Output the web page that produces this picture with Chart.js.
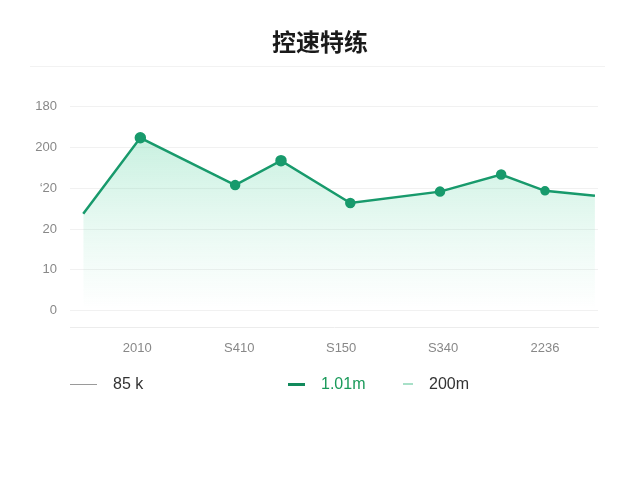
<!DOCTYPE html>
<html>
<head>
<meta charset="utf-8">
<script src="https://cdn.jsdelivr.net/npm/chart.js@4/dist/chart.umd.min.js"></script>
<style>
  html, body { margin: 0; padding: 0; background: #fff; }
  #wrap { position: relative; width: 640px; height: 480px; font-family: "Liberation Sans", Arial, sans-serif; }
  #myChart { position: absolute; left: 0; top: 0; }
  #rule { position: absolute; left: 30px; top: 66px; width: 575px; height: 1px; background: #f2f2f2; }
  #legend { position: absolute; left: 0; top: 374px; width: 640px; height: 20px; }
  .item { position: absolute; top: 0; height: 20px; display: flex; align-items: center; font-size: 16px; color: #333; }
  .item .mark { display: inline-block; margin-right: 16px; }
</style>
</head>
<body>
<div id="wrap">
  <canvas id="myChart" width="640" height="480"></canvas>
  <div id="rule"></div>
  <div id="legend"></div>
</div>
<script>
//
// data
//
const titleText = '控速特练';
const xTickLabels = ['2010', 'S410', 'S150', 'S340', '2236'];
const yTickValues = [0, 50, 100, 150, 200, 250];
const yTickLabels = ['0', '10', '20', '‘20', '200', '180'];
// x given in category units (0 = "2010" ... 4 = "2236")
const seriesX = [-0.53, 0.03, 0.96, 1.41, 2.09, 2.97, 3.57, 4.0, 4.49];
const seriesY = [119, 212, 154, 184, 132, 146, 167, 147, 141];
const legendLabels = ['85 k', '1.01m', '200m'];

//
// legend (html, positions follow the picture)
//
const legendStyle = [
    { left: 70, w: 27, h: 1, color: '#9a9a9a', text: '#333' },
    { left: 288, w: 17, h: 3, color: '#128a5c', text: '#1a9a5a' },
    { left: 403, w: 10, h: 2, color: '#a8e0c8', text: '#333' },
];
const legendEl = document.getElementById('legend');
legendLabels.forEach((lab, i) => {
    const s = legendStyle[i];
    const item = document.createElement('div');
    item.className = 'item';
    item.style.left = s.left + 'px';
    item.style.color = s.text;
    const mark = document.createElement('span');
    mark.className = 'mark';
    mark.style.width = s.w + 'px';
    mark.style.height = s.h + 'px';
    mark.style.background = s.color;
    item.appendChild(mark);
    item.appendChild(document.createTextNode(lab));
    legendEl.appendChild(item);
});

//
// CHART
//
const points = seriesX.map((x, i) => ({ x: x, y: seriesY[i] }));
const ctx = document.getElementById('myChart').getContext('2d');

var myChart = new Chart(ctx, {
    type: 'line',
    data: {
        datasets: [{
            label: legendLabels[1],
            data: points,
            borderColor: '#189a6c',
            borderWidth: 2.5,
            pointBackgroundColor: '#189a6c',
            pointBorderColor: '#189a6c',
            pointRadius: [0, 4.5, 4, 4.5, 4, 4, 4, 3.5, 0],
            lineTension: 0,
            fill: 'start',
            backgroundColor: function(context) {
                const area = context.chart.chartArea;
                if (!area) return 'rgba(60,200,140,0.2)';
                const g = context.chart.ctx.createLinearGradient(0, area.top, 0, area.bottom);
                g.addColorStop(0, 'rgba(70,205,150,0.36)');
                g.addColorStop(0.45, 'rgba(90,212,162,0.18)');
                g.addColorStop(0.92, 'rgba(120,220,180,0.0)');
                return g;
            },
        }]
    },
    options: {
        responsive: false,
        animation: { duration: 0 },
        layout: {
            padding: { left: 0, right: 0, top: 0, bottom: 113 }
        },
        plugins: {
            legend: { display: false },
            tooltip: { enabled: false },
            title: {
                display: true,
                text: titleText,
                color: '#1a1a1a',
                font: { size: 24, weight: 'bold', family: "'Noto Sans CJK SC', sans-serif" },
                padding: { top: 27, bottom: 51 },
            },
        },
        scales: {
            x: {
                type: 'linear',
                min: -0.66,
                max: 4.52,
                afterBuildTicks: function(scale) {
                    scale.ticks = xTickLabels.map((t, i) => ({ value: i }));
                },
                afterFit: function(scale) { scale.height = 40; },
                grid: { display: false, drawTicks: false },
                border: { display: true, color: '#ececec' },
                ticks: {
                    padding: 14,
                    color: '#888',
                    font: { size: 13, family: "'Liberation Sans', Arial, sans-serif" },
                    callback: function(v) { return xTickLabels[Math.round(v)]; },
                    maxRotation: 0,
                },
            },
            y: {
                min: -20,
                max: 250,
                afterBuildTicks: function(scale) {
                    scale.ticks = yTickValues.map(v => ({ value: v }));
                },
                afterFit: function(scale) { scale.width = 70; },
                grid: { color: '#f1f1f1', drawTicks: false },
                border: { display: false },
                ticks: {
                    padding: 13,
                    color: '#888',
                    font: { size: 13, family: "'Liberation Sans', Arial, sans-serif" },
                    callback: function(v) {
                        const i = yTickValues.indexOf(v);
                        return i >= 0 ? yTickLabels[i] : '';
                    },
                },
            },
            // empty right axis, only keeps the plot off the right edge
            yRight: {
                position: 'right',
                min: -20,
                max: 250,
                afterFit: function(scale) { scale.width = 42; },
                grid: { display: false, drawTicks: false },
                border: { display: false },
                ticks: { display: false },
            },
        },
    },
});
</script>
</body>
</html>
